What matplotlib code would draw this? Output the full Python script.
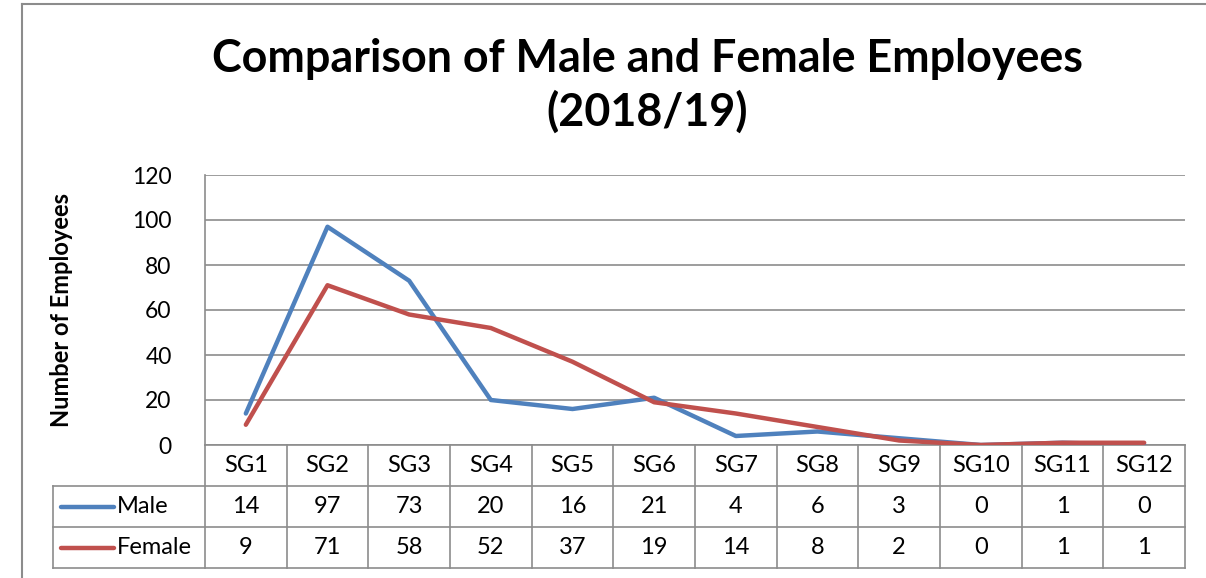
import numpy as np
import matplotlib.pyplot as plt
from matplotlib.lines import Line2D
import matplotlib.transforms as mtransforms

plt.rcParams['font.family'] = ['Lato', 'DejaVu Sans']

categories = ['SG1', 'SG2', 'SG3', 'SG4', 'SG5', 'SG6', 'SG7', 'SG8', 'SG9', 'SG10', 'SG11', 'SG12']
male = [14, 97, 73, 20, 16, 21, 4, 6, 3, 0, 1, 0]
female = [9, 71, 58, 52, 37, 19, 14, 8, 2, 0, 1, 1]
series_names = ['Male', 'Female']
colors = ['#4F81BD', '#C0504D']
grid_col = '#8C8C8C'

W, H = 1206, 578
fig = plt.figure(figsize=(W / 100, H / 100), dpi=100)
ax = fig.add_axes([205 / W, 1 - 445 / H, 980 / W, 270 / H])

x = np.arange(len(categories)) + 0.5
for vals, col in zip([male, female], colors):
    ax.plot(x, vals, color=col, lw=3.2, solid_capstyle='round', solid_joinstyle='round', zorder=3)

ax.set_xlim(0, len(categories))
ax.set_ylim(0, 120)
ax.set_yticks(range(0, 121, 20))
ax.set_xticks([])
ax.tick_params(axis='y', length=0, labelsize=16.5, pad=24)
ax.yaxis.grid(True, color=grid_col, lw=1.2)
ax.set_axisbelow(True)
for s in ['top', 'right', 'bottom']:
    ax.spines[s].set_visible(False)
ax.spines['left'].set_color(grid_col)
ax.spines['left'].set_linewidth(1.2)

ax.set_ylabel('Number of Employees', fontsize=17, fontweight='bold')
ax.yaxis.set_label_coords(-0.135, 0.5)

# data table under the plot
tr = mtransforms.blended_transform_factory(ax.transData, ax.transAxes)
h = 270.0
r0, r1, r2, r3 = 0, -41 / h, -82 / h, -123 / h
xl = (53 - 205) / 980 * len(categories)
n = len(categories)
kw = dict(transform=tr, color=grid_col, lw=1.2, clip_on=False)
ax.add_line(Line2D([0, n], [r0, r0], **kw))
ax.add_line(Line2D([xl, n], [r1, r1], **kw))
ax.add_line(Line2D([xl, n], [r2, r2], **kw))
ax.add_line(Line2D([xl, n], [r3, r3], **kw))
for i in range(n + 1):
    ax.add_line(Line2D([i, i], [r0, r3], **kw))
ax.add_line(Line2D([xl, xl], [r1, r3], **kw))

for i, c in enumerate(categories):
    ax.text(i + 0.5, (r0 + r1) / 2, c, transform=tr, ha='center', va='center', fontsize=17)
for row, (name, vals, col) in enumerate(zip(series_names, [male, female], colors)):
    yc = [(r1 + r2) / 2, (r2 + r3) / 2][row]
    for i, v in enumerate(vals):
        ax.text(i + 0.5, yc, str(v), transform=tr, ha='center', va='center', fontsize=17)
    lx0 = (61 - 205) / 980 * n
    lx1 = (114 - 205) / 980 * n
    ax.add_line(Line2D([lx0, lx1], [yc, yc], transform=tr, color=col, lw=3.2,
                       solid_capstyle='round', clip_on=False))
    ax.text((117 - 205) / 980 * n, yc, name, transform=tr, ha='left', va='center', fontsize=17)

fig.text(647 / W, 1 - 86 / H, 'Comparison of Male and Female Employees\n(2018/19)',
         ha='center', va='center', fontsize=32.3, fontweight='bold', linespacing=1.3)

# chart frame
fig.add_artist(Line2D([22 / W, 22 / W], [0, 1 - 4 / H], color='#8C8C8C', lw=1.5))
fig.add_artist(Line2D([22 / W, 1], [1 - 4 / H, 1 - 4 / H], color='#8C8C8C', lw=1.5))

fig.savefig('out.png', dpi=100)
